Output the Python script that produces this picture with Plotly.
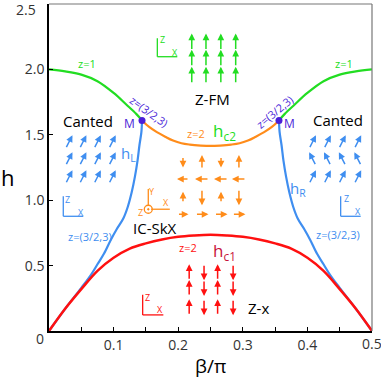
import math
import plotly.graph_objects as go

# phase boundaries, beta/pi vs h
beta_z1_left = [0, 0.025, 0.05, 0.075, 0.1, 0.12, 0.135, 0.144]
h_z1_left = [2.0, 1.985, 1.96, 1.91, 1.82, 1.73, 1.66, 1.61]
beta_z1_right = [0.356, 0.365, 0.38, 0.4, 0.425, 0.45, 0.475, 0.5]
h_z1_right = [1.61, 1.66, 1.73, 1.82, 1.91, 1.96, 1.985, 2.0]

beta_hc2 = [0.144, 0.155, 0.167, 0.18, 0.192, 0.205, 0.218, 0.235, 0.25,
            0.265, 0.282, 0.295, 0.308, 0.32, 0.333, 0.345, 0.356]
hc2 = [1.61, 1.56, 1.52, 1.485, 1.456, 1.435, 1.425, 1.418, 1.415,
       1.418, 1.425, 1.435, 1.456, 1.485, 1.52, 1.56, 1.61]

beta_hL = [0, 0.025, 0.05, 0.065, 0.075, 0.085, 0.096, 0.105, 0.115,
           0.122, 0.128, 0.133, 0.137, 0.140, 0.143, 0.144]
hL = [0, 0.17, 0.33, 0.43, 0.51, 0.59, 0.70, 0.78, 0.86,
      0.95, 1.06, 1.18, 1.30, 1.42, 1.52, 1.61]
beta_hR = [0.356, 0.357, 0.36, 0.363, 0.367, 0.372, 0.378, 0.385, 0.395,
           0.404, 0.415, 0.425, 0.435, 0.45, 0.475, 0.5]
hR = [1.61, 1.52, 1.42, 1.30, 1.18, 1.06, 0.95, 0.86, 0.78,
      0.70, 0.59, 0.51, 0.43, 0.33, 0.17, 0]

beta_hc1 = [0, 0.025, 0.05, 0.075, 0.1, 0.125, 0.15, 0.175, 0.2, 0.225, 0.25,
            0.275, 0.3, 0.325, 0.35, 0.375, 0.4, 0.425, 0.45, 0.475, 0.5]
hc1 = [0, 0.17, 0.32, 0.46, 0.56, 0.63, 0.67, 0.70, 0.72, 0.73, 0.735,
       0.73, 0.72, 0.70, 0.67, 0.63, 0.56, 0.46, 0.32, 0.17, 0]

M_beta = [0.144, 0.356]
M_h = [1.61, 1.61]

x_tickvals = [0, 0.05, 0.1, 0.15, 0.2, 0.25, 0.3, 0.35, 0.4, 0.45, 0.5]
x_ticktext = ["", "", "0.1", "", "0.2", "", "0.3", "", "0.4", "", ""]
y_tickvals = [0.5, 1.0, 1.5, 2.0, 2.5]
y_ticktext = ["0.5", "1.0", "1.5", "2.0", ""]

GREEN = "#22dd22"
ORANGE = "#ff8c1a"
BLUE = "#3f8ef0"
RED = "#ff1010"
PURPLE = "#4a1fd8"
DARKRED = "#c8143c"
FONT = "Open Sans, Lato, sans-serif"

W, H = 381, 379
ML, MR, MT, MB = 49, 9, 4, 48
PX_X = (W - ML - MR) / 0.5
PX_H = (H - MT - MB) / 2.5

fig = go.Figure()


def curve(x, y, color, width=2.2):
    fig.add_trace(go.Scatter(x=x, y=y, mode="lines", line=dict(color=color, width=width),
                             line_shape="spline", showlegend=False, hoverinfo="skip"))


curve(beta_hL, hL, BLUE)
curve(beta_hR, hR, BLUE)
curve(beta_hc1, hc1, RED, 2.5)
curve(beta_z1_left, h_z1_left, GREEN)
curve(beta_z1_right, h_z1_right, GREEN)
curve(beta_hc2, hc2, ORANGE)
fig.add_trace(go.Scatter(x=M_beta, y=M_h, mode="markers", marker=dict(color=PURPLE, size=7),
                         showlegend=False, cliponaxis=False, hoverinfo="skip"))

ann = []


def arrow(xc, hc, ang, length, color):
    dx = length * math.cos(math.radians(ang))
    dy = length * math.sin(math.radians(ang))
    ann.append(dict(x=xc + dx / 2 / PX_X, y=hc + dy / 2 / PX_H, ax=-dx, ay=dy,
                    axref="pixel", ayref="pixel", showarrow=True, text="",
                    arrowhead=2, arrowsize=0.9, arrowwidth=1.5, arrowcolor=color,
                    standoff=0, startstandoff=0))


def label(x, y, text, color="black", size=14, angle=0):
    ann.append(dict(x=x, y=y, text=text, showarrow=False, textangle=angle,
                    font=dict(color=color, size=size, family=FONT)))


def paper_label(x, y, text, size, color="#333"):
    ann.append(dict(xref="paper", yref="paper", x=x, y=y, text=text, showarrow=False,
                    xanchor="center", yanchor="middle",
                    font=dict(color=color, size=size, family=FONT)))


# Z-FM spins
for c in [0.221, 0.243, 0.266, 0.289]:
    for r in [2.21, 2.085, 1.955]:
        arrow(c, r, 90, 17, GREEN)

# canted spins
for c in [0.031, 0.0526, 0.075, 0.098]:
    for r in [1.446, 1.315, 1.177]:
        arrow(c, r, 63, 15, BLUE)
for c in [0.408, 0.431, 0.454, 0.478]:
    for r, a in [(1.446, 63), (1.315, 117), (1.177, 63)]:
        arrow(c, r, a, 15, BLUE)

# IC-SkX spins
sk_cols = [0.2074, 0.2368, 0.2663, 0.294]
for i, c in enumerate(sk_cols):
    up = i % 2 == 1
    arrow(c, 1.292, 90 if up else 270, 14 if up else 11, ORANGE)
    arrow(c, 1.162, 180, 12 if i == 0 else 14, ORANGE)
    arrow(c, 1.023, 270 if up else 90, 16 if up else 11, ORANGE)
    arrow(c, 0.892, 0, 11 if i == 0 else 13, ORANGE)

# Z-x spins
for i, c in enumerate([0.217, 0.240, 0.261, 0.285]):
    for r in [0.45, 0.328, 0.181]:
        arrow(c, r, 90 if i % 2 == 0 else 270, 16, RED)

shapes = []


def frame(x0, x1, ytop, ybot, color, zx, zy, xx, xy, top="Z"):
    shapes.append(dict(type="line", x0=x0, x1=x0, y0=ybot, y1=ytop, line=dict(color=color, width=1.3)))
    shapes.append(dict(type="line", x0=x0, x1=x1, y0=ybot, y1=ybot, line=dict(color=color, width=1.3)))
    label(zx, zy, top, color, 9)
    label(xx, xy, "X", color, 9)


frame(0.1677, 0.1986, 2.238, 2.097, GREEN, 0.176, 2.225, 0.195, 2.13)
frame(0.0221, 0.0531, 1.031, 0.877, BLUE, 0.029, 1.008, 0.0495, 0.908)
frame(0.4515, 0.4825, 1.031, 0.877, BLUE, 0.4598, 1.015, 0.4783, 0.915)
frame(0.145, 0.177, 0.277, 0.123, RED, 0.152, 0.254, 0.172, 0.162)
# in-plane frame for the skyrmion region
shapes.append(dict(type="line", x0=0.1537, x1=0.1537, y0=0.955, y1=1.085, line=dict(color=ORANGE, width=1.3)))
shapes.append(dict(type="line", x0=0.158, x1=0.187, y0=0.931, y1=0.931, line=dict(color=ORANGE, width=1.3)))
label(0.16, 1.07, "Y", ORANGE, 9)
label(0.181, 0.985, "X", ORANGE, 9)
label(0.141, 0.905, "Z", ORANGE, 9)
fig.add_trace(go.Scatter(x=[0.1537], y=[0.931], mode="markers",
                         marker=dict(symbol="circle-dot", size=8, color="white",
                                     line=dict(color=ORANGE, width=1.3)),
                         showlegend=False, hoverinfo="skip"))

label(0.0604, 1.608, "Canted", "black", 15)
label(0.447, 1.615, "Canted", "black", 15)
label(0.125, 1.585, "M", PURPLE, 12)
label(0.373, 1.585, "M", PURPLE, 12)
label(0.1228, 1.354, "h<sub>L</sub>", BLUE, 15)
label(0.3854, 1.085, "h<sub>R</sub>", BLUE, 15)
label(0.0635, 0.723, "z=(3/2,3)", BLUE, 11)
label(0.4466, 0.738, "z=(3/2,3)", BLUE, 11)
label(0.0584, 2.046, "z=1", GREEN, 11)
label(0.4567, 2.046, "z=1", GREEN, 11)
label(0.1548, 1.675, "z=(3/2,3)", PURPLE, 11, 36)
label(0.3498, 1.675, "z=(3/2,3)", PURPLE, 11, -40)
label(0.2276, 1.508, "z=2", ORANGE, 11)
label(0.2724, 1.523, "h<sub>c2</sub>", GREEN, 17)
label(0.2531, 1.777, "Z-FM", "black", 15)
label(0.1641, 0.788, "IC-SkX", "black", 15)
label(0.2156, 0.636, "z=2", RED, 11)
label(0.2724, 0.61, "h<sub>c1</sub>", DARKRED, 17)
label(0.324, 0.175, "Z-x", "black", 15)

# corner / edge tick labels that plotly would drop at the page edges
paper_label(-0.028, -0.022, "0", 14)
paper_label(1.0, -0.037, "0.5", 14)
paper_label(-0.07, 0.983, "2.5", 14)
paper_label(0.5, -0.107, "β/π", 19, "black")
paper_label(-0.127, 0.47, "h", 22, "black")

# grey top/right frame
shapes.append(dict(type="line", xref="paper", yref="paper", x0=0, x1=1, y0=1, y1=1,
                   line=dict(color="#777", width=1.2)))
shapes.append(dict(type="line", xref="paper", yref="paper", x0=1, x1=1, y0=0, y1=1,
                   line=dict(color="#777", width=1.2)))

fig.update_layout(
    width=W, height=H,
    margin=dict(l=ML, r=MR, t=MT, b=MB),
    plot_bgcolor="white", paper_bgcolor="white",
    font=dict(family=FONT, color="#333", size=14),
    xaxis=dict(range=[0, 0.5], showgrid=False, zeroline=False, showline=True,
               linecolor="black", linewidth=1.5, ticks="inside", ticklen=4,
               tickcolor="black", tickvals=x_tickvals, ticktext=x_ticktext,
               tickfont=dict(size=14, color="#333")),
    yaxis=dict(range=[0, 2.5], showgrid=False, zeroline=False, showline=True,
               linecolor="black", linewidth=1.5, ticks="inside", ticklen=4,
               tickcolor="black", tickvals=y_tickvals, ticktext=y_ticktext,
               tickfont=dict(size=14, color="#333")),
    annotations=ann,
    shapes=shapes,
    showlegend=False,
)

# the page's default body margin would push the fixed-size figure off the window
fig.write_html("out.html", config={"displayModeBar": False},
               post_script="document.body.style.margin='0';")
